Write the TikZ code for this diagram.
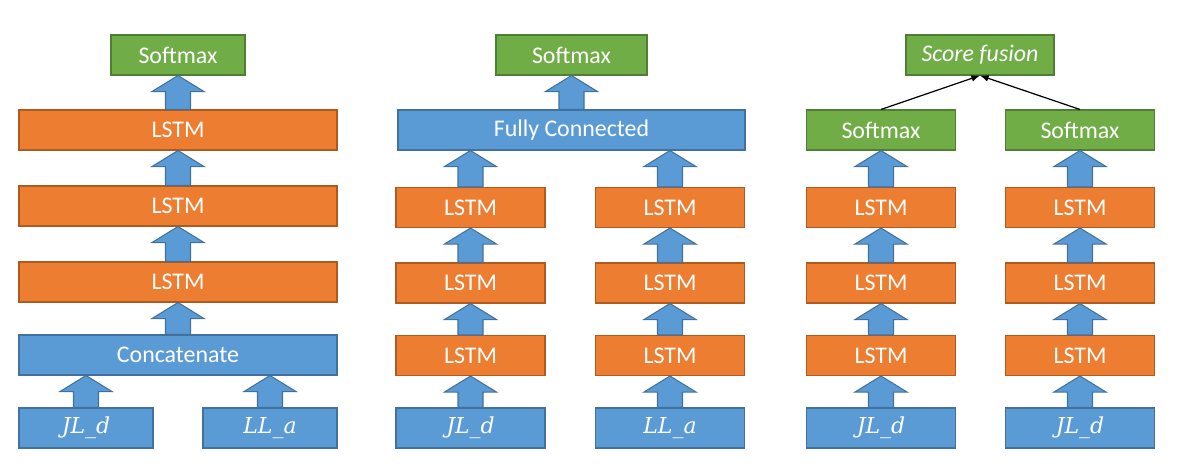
\documentclass[tikz,border=0pt]{standalone}
\usepackage{fontspec}
\setmainfont{Carlito}
\newfontfamily\featfont{DejaVu Serif}
\usetikzlibrary{calc}
\definecolor{smgreen}{HTML}{70AD47}
\definecolor{smgreendk}{HTML}{507E32}
\definecolor{lstmorange}{HTML}{ED7D31}
\definecolor{lstmorangedk}{HTML}{AE5A21}
\definecolor{featblue}{HTML}{5B9BD5}
\definecolor{featbluedk}{HTML}{41719C}
\newcommand{\blockup}[2]{%
	\filldraw[blockarr] ($(#1.north)+(-0.25,0)$) -- ($(#1.north |- #2.south)+(-0.25,-0.32)$) -- ($(#1.north |- #2.south)+(-0.52,-0.32)$) -- (#1.north |- #2.south) -- ($(#1.north |- #2.south)+(0.52,-0.32)$) -- ($(#1.north |- #2.south)+(0.25,-0.32)$) -- ($(#1.north)+(0.25,0)$) -- cycle;}
\newcommand{\featname}[1]{{\featfont\itshape\fontsize{12.5}{15}\selectfont #1}}
\begin{document}
\begin{tikzpicture}[font=\fontsize{13.6}{16}\selectfont,
	box/.style={draw, line width=0.6pt, text=white, minimum height=0.8cm, inner sep=0pt},
	soft/.style={box, fill=smgreen, draw=smgreendk},
	lstm/.style={box, fill=lstmorange, draw=lstmorangedk},
	feat/.style={box, fill=featblue, draw=featbluedk},
	blockarr/.style={fill=featblue, draw=featbluedk, line width=0.6pt}]
	\useasboundingbox (0,0) rectangle (23.72,9.4);
	
	\node[soft, minimum width=2.68cm] (sm1) at (3.56,8.3) {Softmax};
	\node[lstm, minimum width=6.36cm] (la1) at (3.56,6.8) {LSTM};
	\node[lstm, minimum width=6.36cm] (la2) at (3.56,5.28) {LSTM};
	\node[lstm, minimum width=6.36cm] (la3) at (3.56,3.76) {LSTM};
	\node[feat, minimum width=6.36cm] (cat) at (3.56,2.3) {Concatenate};
	\node[feat, minimum width=2.68cm] (jla) at (1.72,0.84) {\featname{JL\_d}};
	\node[feat, minimum width=2.68cm] (lla) at (5.4,0.84) {\featname{LL\_a}};
	\blockup{jla}{cat}
	\blockup{lla}{cat}
	\blockup{cat}{la3}
	\blockup{la3}{la2}
	\blockup{la2}{la1}
	\blockup{la1}{sm1}
	
	\node[soft, minimum width=3.02cm] (sm2) at (11.43,8.3) {Softmax};
	\node[feat, minimum width=6.94cm] (fc) at (11.43,6.8) {Fully Connected};
	\node[lstm, minimum width=2.98cm] (lb1) at (9.41,5.25) {LSTM};
	\node[lstm, minimum width=2.98cm] (lb2) at (9.41,3.74) {LSTM};
	\node[lstm, minimum width=2.98cm] (lb3) at (9.41,2.29) {LSTM};
	\node[feat, minimum width=2.98cm] (jlb) at (9.41,0.84) {\featname{JL\_d}};
	\node[lstm, minimum width=2.98cm] (lc1) at (13.4,5.25) {LSTM};
	\node[lstm, minimum width=2.98cm] (lc2) at (13.4,3.74) {LSTM};
	\node[lstm, minimum width=2.98cm] (lc3) at (13.4,2.29) {LSTM};
	\node[feat, minimum width=2.98cm] (llb) at (13.4,0.84) {\featname{LL\_a}};
	\blockup{jlb}{lb3}
	\blockup{lb3}{lb2}
	\blockup{lb2}{lb1}
	\blockup{lb1}{fc}
	\blockup{llb}{lc3}
	\blockup{lc3}{lc2}
	\blockup{lc2}{lc1}
	\blockup{lc1}{fc}
	\blockup{fc}{sm2}
	
	\node[soft, minimum width=2.96cm] (sf) at (19.6,8.3) {\itshape Score fusion};
	\node[soft, minimum width=2.98cm] (sm3) at (17.62,6.8) {Softmax};
	\node[lstm, minimum width=2.98cm] (ld1) at (17.62,5.25) {LSTM};
	\node[lstm, minimum width=2.98cm] (ld2) at (17.62,3.74) {LSTM};
	\node[lstm, minimum width=2.98cm] (ld3) at (17.62,2.29) {LSTM};
	\node[feat, minimum width=2.98cm] (jlc) at (17.62,0.84) {\featname{JL\_d}};
	\node[soft, minimum width=2.98cm] (sm4) at (21.6,6.8) {Softmax};
	\node[lstm, minimum width=2.98cm] (le1) at (21.6,5.25) {LSTM};
	\node[lstm, minimum width=2.98cm] (le2) at (21.6,3.74) {LSTM};
	\node[lstm, minimum width=2.98cm] (le3) at (21.6,2.29) {LSTM};
	\node[feat, minimum width=2.98cm] (jld) at (21.6,0.84) {\featname{JL\_d}};
	\blockup{jlc}{ld3}
	\blockup{ld3}{ld2}
	\blockup{ld2}{ld1}
	\blockup{ld1}{sm3}
	\blockup{jld}{le3}
	\blockup{le3}{le2}
	\blockup{le2}{le1}
	\blockup{le1}{sm4}
	\draw[-latex, line width=0.7pt] (sm3.north) -- (sf.south);
	\draw[-latex, line width=0.7pt] (sm4.north) -- (sf.south);
\end{tikzpicture}
\end{document}
